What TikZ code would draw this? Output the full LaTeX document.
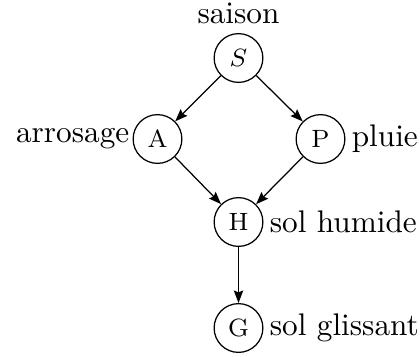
\documentclass[tikz,border=0pt]{standalone}
\usepackage{amsmath,amssymb}
\usepackage{tikz}
\usetikzlibrary{positioning,arrows.meta}
\tikzset{
  bvar/.style={circle,draw,minimum size=15.6pt,inner sep=0pt,font=\footnotesize},
  barr/.style={-{Stealth[length=4pt,inset=0.6pt]},line width=0.4pt},
}
\begin{document}
\begin{tikzpicture}[x=0.32pt,y=-0.32pt]
  \useasboundingbox (0,0) rectangle (420,356);
  % nodes of the network
  \node[bvar,label={[label distance=-0.5pt]above:saison}] (S) at (238.5,58) {$S$};
  \node[bvar,label={[label distance=-2.5pt]left:arrosage}] (A) at (157.5,139) {A};
  \node[bvar,label={[label distance=-1.5pt]right:pluie}] (P) at (320.5,139) {P};
  \node[bvar,label={[label distance=-1.5pt]right:sol humide}] (H) at (238.5,222) {H};
  \node[bvar,label={[label distance=-1.5pt]right:sol glissant}] (G) at (238.5,328) {G};
  % arcs
  \draw[barr] (S) -- (A);
  \draw[barr] (S) -- (P);
  \draw[barr] (A) -- (H);
  \draw[barr] (P) -- (H);
  \draw[barr] (H) -- (G);
\end{tikzpicture}
\end{document}
